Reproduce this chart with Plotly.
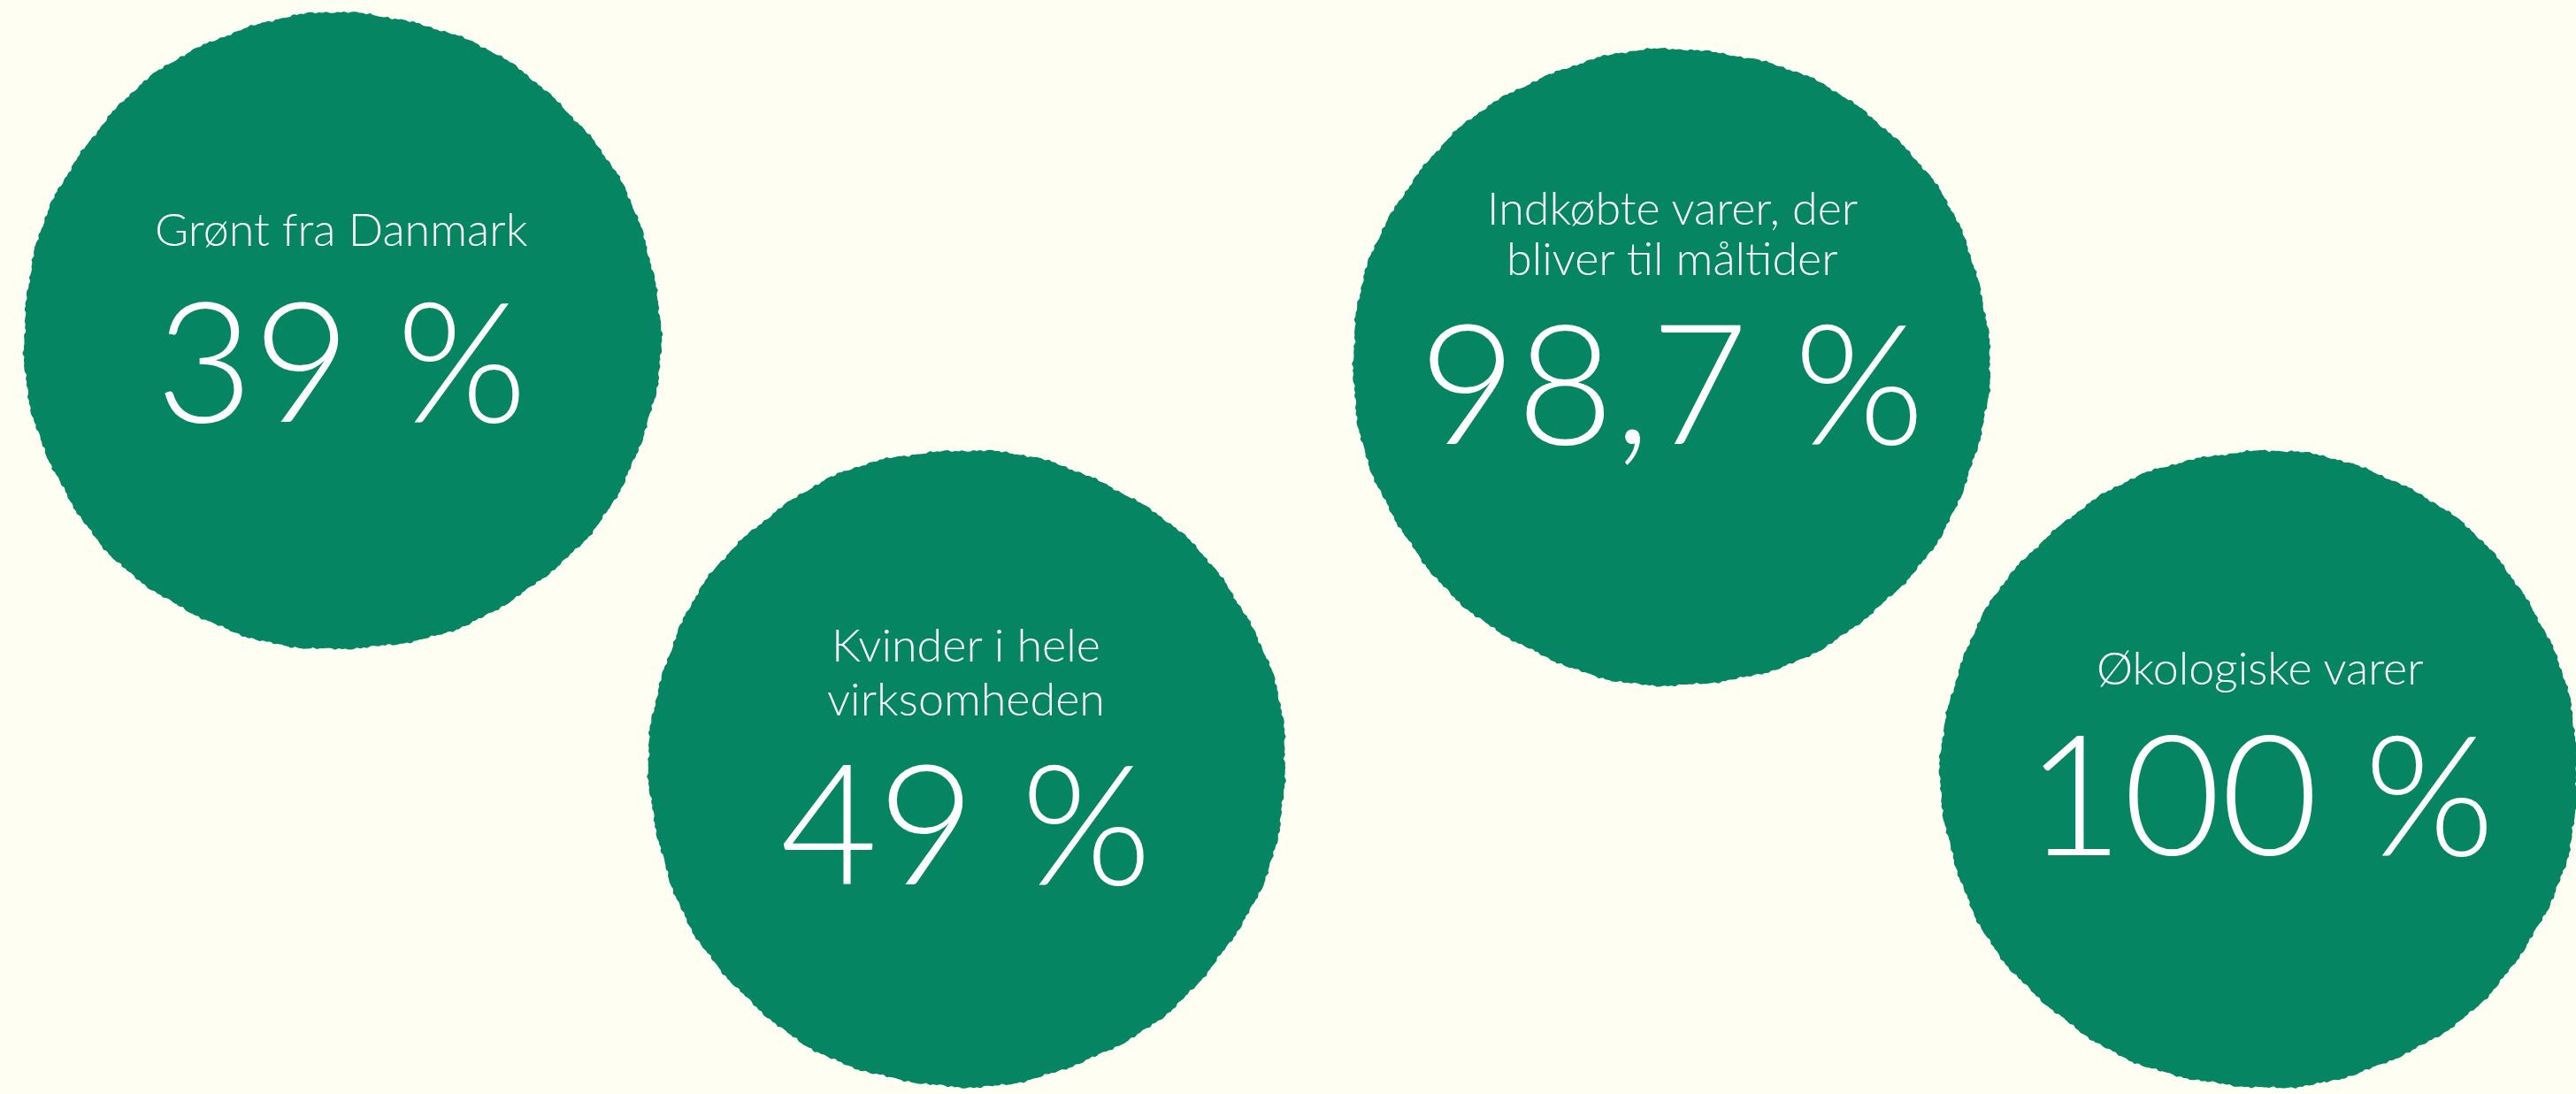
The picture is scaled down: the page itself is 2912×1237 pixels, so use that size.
import math
import plotly.graph_objects as go

# ---- data ----
labels = ["Grønt fra Danmark",
          "Kvinder i hele<br>virksomheden",
          "Indkøbte varer, der<br>bliver til måltider",
          "Økologiske varer"]
values = [39, 49, 98.7, 100]

# ---- layout (pixel positions of the badges) ----
W, H = 2912, 1237
cx = [386, 1092, 1890, 2555]
cy = [376, 868, 414, 871]
R = 360
label_y = [[258], [728, 789], [234, 291], [754]]   # one entry per text line
value_y = [403, 926, 428, 893]

BG = "#FEFFF2"
GREEN = "#068562"
FONT = "Lato"


def fmt(v):
    s = f"{v:g}".replace(".", ",")
    return s + " %"


def brush_path(x0, y0, r, seed):
    pts = []
    n = 900
    for i in range(n):
        t = 2 * math.pi * i / n
        k = (1 + 0.005 * math.sin(3 * t + seed)
             + 0.003 * math.sin(11 * t + 2 * seed)
             + 0.002 * math.sin(37 * t + 3 * seed)
             + 0.0015 * math.sin(131 * t + seed)
             + 0.0012 * math.sin(233 * t + 2.3 * seed)
             + 0.001 * math.sin(317 * t + 0.7 * seed))
        pts.append((x0 + r * k * math.cos(t), y0 + r * k * math.sin(t)))
    return "M " + " L ".join(f"{x:.1f},{y:.1f}" for x, y in pts) + " Z"


fig = go.Figure()
shapes = []
annotations = []
for i in range(len(labels)):
    shapes.append(dict(type="path", xref="x", yref="y",
                       path=brush_path(cx[i], cy[i], R, i * 1.7 + 0.4),
                       fillcolor=GREEN, line=dict(width=0), layer="below"))
    for line, ly in zip(labels[i].split("<br>"), label_y[i]):
        annotations.append(dict(x=cx[i], y=ly, xref="x", yref="y",
                                text=line, showarrow=False,
                                xanchor="center", yanchor="middle",
                                font=dict(family=FONT, size=52, color="white", weight=300)))
    annotations.append(dict(x=cx[i], y=value_y[i], xref="x", yref="y",
                            text=fmt(values[i]), showarrow=False,
                            xanchor="center", yanchor="middle",
                            font=dict(family=FONT, size=190, color="white", weight=300)))

fig.add_trace(go.Scatter(x=[0, W], y=[0, H], mode="markers",
                         marker=dict(opacity=0), hoverinfo="skip", showlegend=False))

fig.update_layout(
    width=W, height=H,
    margin=dict(l=0, r=0, t=0, b=0),
    paper_bgcolor=BG, plot_bgcolor=BG,
    shapes=shapes, annotations=annotations,
    xaxis=dict(range=[0, W], visible=False, fixedrange=True),
    yaxis=dict(range=[H, 0], visible=False, fixedrange=True),
    showlegend=False,
)

fig.write_html(
    "out.html",
    config={"displayModeBar": False},
    post_script="document.body.style.margin='0';document.body.style.background='#FEFFF2';",
)
